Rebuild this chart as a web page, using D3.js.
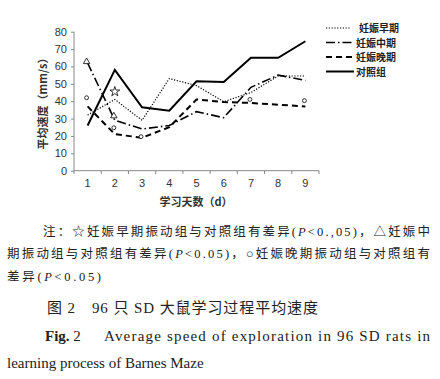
<!DOCTYPE html>
<html><head><meta charset="utf-8">
<script src="https://cdn.jsdelivr.net/npm/d3@7"></script>
<style>body{margin:0;background:#fff}svg{display:block}</style>
</head><body>
<svg id="c" width="440" height="379"></svg>
<script>
const days = ["1","2","3","4","5","6","7","8","9"];
const yTicks = [0,10,20,30,40,50,60,70,80];
const seriesNames = ["妊娠早期","妊娠中期","妊娠晚期","对照组"];
const early   = [32, 41, 29, 53, 49, 39.7, 45, 54.5, 54.5];
const mid     = [62, 29, 24, 26, 34, 30.5, 48, 55, 52];
const late    = [37, 21, 19, 25, 41, 39.5, 39, 38, 37];
const control = [26, 58, 36.5, 34.5, 51.5, 51, 65, 65, 74.5];
const starMarks = [{d:"2", v:45.5}];
const triMarks  = [{d:"1", v:62.7},{d:"2", v:31.5}];
const circMarks = [{d:"1", v:42},{d:"2", v:24.7},{d:"3", v:19.6},{d:"7", v:41},{d:"9", v:40.3}];
// note lines split into [text, italic?] parts
const noteLines = [
  [["注：☆妊娠早期振动组与对照组有差异(",0],["P",1],["<0.,05)，△妊娠中",0]],
  [["期振动组与对照组有差异(",0],["P",1],["<0.05)，○妊娠晚期振动组与对照组有",0]],
  [["差异(",0],["P",1],["<0.05)",0]]
];
const captionCn = "图 2　96 只 SD 大鼠学习过程平均速度";
const captionEn1 = "Average speed of exploration in 96 SD rats in";
const captionEn2 = "learning process of Barnes Maze";

const svg = d3.select("#c");
const x = d3.scaleBand().domain(days).range([74, 319]);
const y = d3.scaleLinear().domain([0, 80]).range([170.7, 31.7]);
const cx = d => x(d) + x.bandwidth()/2;
const axFont = "'Liberation Sans', Arial, sans-serif";
const cjk = "'Noto Sans CJK SC', sans-serif";
const serif = "'Liberation Serif', 'Noto Sans CJK SC', serif";

// Y axis
const ya = svg.append("g").attr("transform","translate(74,0)")
  .call(d3.axisLeft(y).tickValues(yTicks).tickSize(3).tickPadding(4));
ya.select(".domain").attr("stroke","#888").attr("d","M0,31.7V170.7");
ya.selectAll(".tick line").attr("stroke","#888");
ya.selectAll("text").attr("font-family",axFont).attr("font-size",11).attr("fill","#333");

// X axis
const xa = svg.append("g").attr("transform","translate(0,170.7)")
  .call(d3.axisBottom(x).tickSize(0).tickPadding(9));
xa.select(".domain").attr("stroke","#888").attr("d","M74,0H319");
xa.selectAll("text").attr("font-family",axFont).attr("font-size",11).attr("fill","#333");
const bounds = days.map(d => x(d)).concat([319]);
svg.append("g").selectAll("line").data(bounds).join("line")
  .attr("x1",d=>d).attr("x2",d=>d).attr("y1",170.7).attr("y2",174)
  .attr("stroke","#888");

// Axis titles
svg.append("text").attr("transform","translate(47,101) rotate(-90)")
  .attr("text-anchor","middle").attr("font-family",cjk).attr("font-size",11)
  .attr("font-weight","bold").attr("fill","#333").text("平均速度（mm/s）");
svg.append("text").attr("x",196).attr("y",206).attr("text-anchor","middle")
  .attr("font-family",cjk).attr("font-size",11).attr("font-weight","bold")
  .attr("fill","#333").text("学习天数（d）");

// Lines
const styles = [
  {data: early,   w: 1.2, dash: "1.2,1.6"},
  {data: mid,     w: 1.6, dash: "9,3,1.5,3"},
  {data: late,    w: 2,   dash: "6,4"},
  {data: control, w: 2,   dash: null}
];
const line = d3.line().x((v,i)=>cx(days[i])).y(v=>y(v));
svg.append("g").selectAll("path").data(styles).join("path")
  .attr("d", s => line(s.data)).attr("fill","none").attr("stroke","#000")
  .attr("stroke-width", s=>s.w).attr("stroke-dasharray", s=>s.dash);

// Markers
const mk = (arr, type, size, dx, dy) => svg.append("g").selectAll("path").data(arr).join("path")
  .attr("transform", m => `translate(${cx(m.d)+dx},${y(m.v)+dy})`)
  .attr("d", d3.symbol().type(type).size(size))
  .attr("fill","#fff").attr("stroke","#000").attr("stroke-width",0.8);
mk(starMarks, d3.symbolStar, 30, 0, 0);
mk(triMarks, d3.symbolTriangle, 18, -1, 0);
mk(circMarks, d3.symbolCircle, 12, -1, 0);

// Legend
const lg = svg.append("g");
const rows = [28, 42.5, 57, 71.5];
seriesNames.forEach((n,i) => {
  lg.append("line").attr("x1",326).attr("x2",i===0?351:354).attr("y1",rows[i]).attr("y2",rows[i])
    .attr("stroke","#000").attr("stroke-width",styles[i].w).attr("stroke-dasharray",styles[i].dash);
  lg.append("text").attr("x",i===0?359:356).attr("y",rows[i]+4).attr("font-family",cjk)
    .attr("font-size",10).attr("font-weight","bold").attr("fill","#222").text(n);
});

// Notes
const noteX = [43, 7, 7];
const noteY = [232, 254, 277];
const noteLen = [387, 423, 94];
noteLines.forEach((parts,i) => {
  const el = svg.append("text").attr("x",noteX[i]).attr("y",noteY[i]+4)
    .attr("font-family",serif).attr("font-size",12.5).attr("fill","#222")
    .attr("textLength",noteLen[i]).attr("lengthAdjust","spacing");
  parts.forEach(p => el.append("tspan").attr("font-style", p[1] ? "italic" : null).text(p[0]));
});
svg.append("text").attr("x",47).attr("y",313).attr("font-family",serif)
  .attr("font-size",15).attr("fill","#222").attr("textLength",271).attr("lengthAdjust","spacing")
  .text(captionCn);
const f = svg.append("text").attr("x",45).attr("y",341).attr("font-family","'Liberation Serif', serif")
  .attr("font-size",15).attr("fill","#222");
f.append("tspan").attr("font-weight","bold").text("Fig. ");
f.append("tspan").text("2");
svg.append("text").attr("x",104).attr("y",341).attr("font-family","'Liberation Serif', serif")
  .attr("font-size",15).attr("fill","#222").attr("textLength",326).attr("lengthAdjust","spacing")
  .text(captionEn1);
svg.append("text").attr("x",7).attr("y",368).attr("font-family","'Liberation Serif', serif")
  .attr("font-size",15).attr("fill","#222").text(captionEn2);
</script>
</body></html>
